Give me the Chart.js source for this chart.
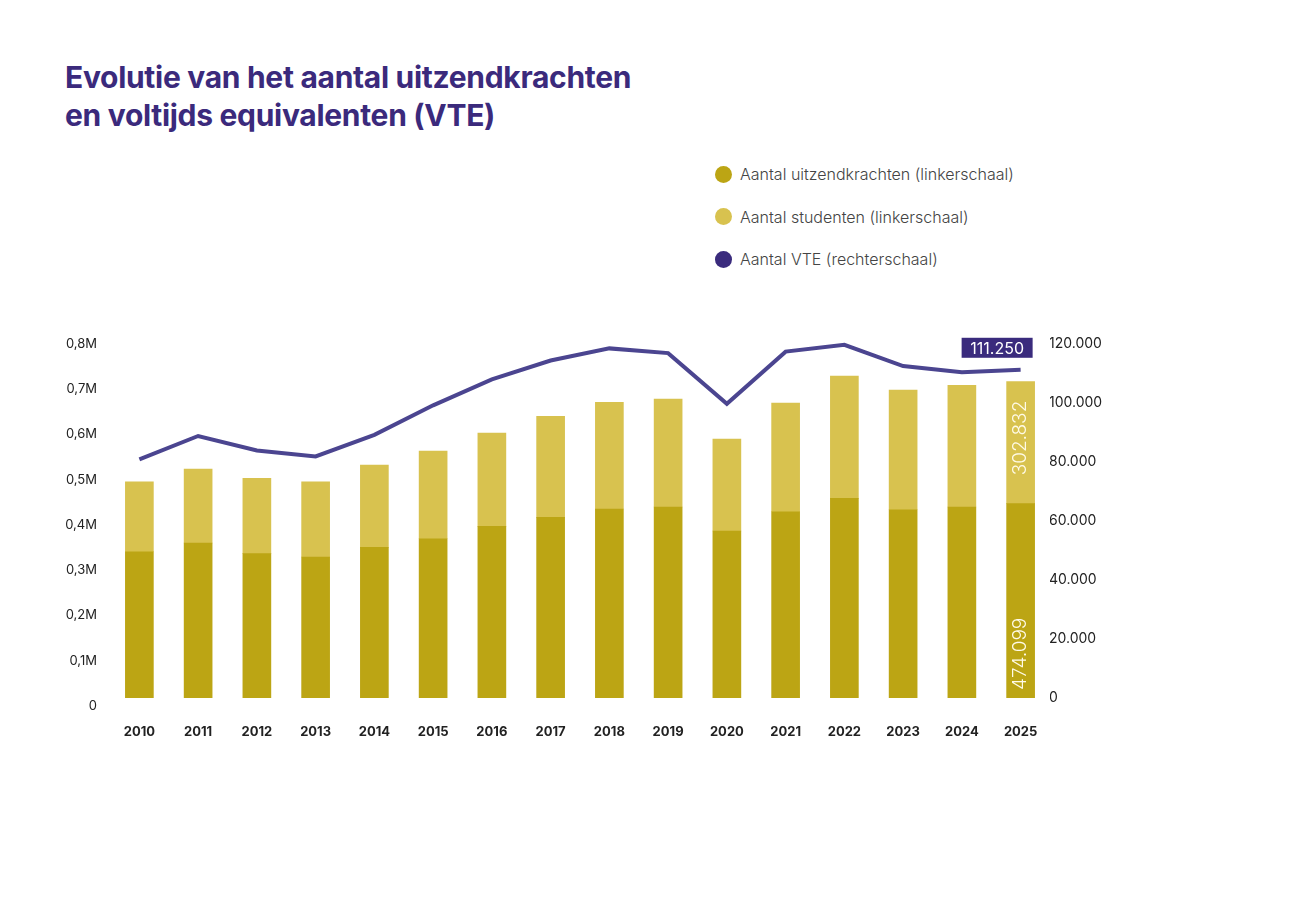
<!DOCTYPE html>
<html lang="nl">
<head>
<meta charset="utf-8">
<title>Evolutie van het aantal uitzendkrachten en VTE</title>
<script src="https://cdn.jsdelivr.net/npm/chart.js@4.4.1/dist/chart.umd.min.js"></script>
<style>
  body { margin: 0; background: #fff; width: 1300px; height: 909px; position: relative; overflow: hidden; font-family: Inter, sans-serif; }
  h1 { position: absolute; left: 65px; top: 58px; margin: 0; font: 700 30px/38px Inter, sans-serif; color: #3b2a7c; letter-spacing: -0.3px; }
  .legend { position: absolute; left: 715px; top: 153px; }
  .item { display: flex; align-items: center; height: 42.5px; font: 300 16px Inter, sans-serif; color: #444; }
  .dot { width: 17px; height: 17px; border-radius: 50%; margin-right: 8px; }
  #wrap { position: absolute; left: 0; top: 300px; width: 1300px; height: 460px; }
</style>
</head>
<body>
<h1>Evolutie van het aantal uitzendkrachten<br>en voltijds equivalenten (VTE)</h1>
<div class="legend">
  <div class="item"><span class="dot" style="background:#bca514"></span>Aantal uitzendkrachten (linkerschaal)</div>
  <div class="item"><span class="dot" style="background:#d8c24f"></span>Aantal studenten (linkerschaal)</div>
  <div class="item"><span class="dot" style="background:#3a2b7d"></span>Aantal VTE (rechterschaal)</div>
</div>
<div id="wrap"><canvas id="chart"></canvas></div>
<script>
// waarden
const years = ['2010', '2011', '2012', '2013', '2014', '2015', '2016', '2017',
               '2018', '2019', '2020', '2021', '2022', '2023', '2024', '2025'];
const uitzendkrachten = [323300, 342500, 318900, 311600, 333000, 352000, 379400, 399300,
                         417700, 422100, 369100, 411700, 441300, 416100, 422100, 429400];
const studenten = [154700, 163600, 166600, 166400, 181900, 193900, 206200, 223200,
                   235800, 238700, 203300, 240200, 270300, 264600, 268900, 269600];
const vte = [80900, 88800, 83900, 81900, 89200, 99200, 108000, 114400,
             118500, 116900, 99700, 117400, 119700, 112500, 110400, 111250];

const leftTickLabels = ['0', '0,1M', '0,2M', '0,3M', '0,4M', '0,5M', '0,6M', '0,7M', '0,8M'];
const rightTickValues = [0, 20000, 40000, 60000, 80000, 100000, 120000];
const rightTickLabels = ['0', '20.000', '40.000', '60.000', '80.000', '100.000', '120.000'];

// labels zoals ze bij 2025 in de grafiek staan
const label2025Uitzend = 474099;
const label2025Studenten = 302832;

const fmt = v => String(v).replace(/\B(?=(\d{3})+(?!\d))/g, '.');

const lastYearLabels = {
  id: 'lastYearLabels',
  afterDatasetsDraw(chart) {
    const ctx = chart.ctx;
    const last = years.length - 1;
    const dark = chart.getDatasetMeta(0).data[last];
    const light = chart.getDatasetMeta(1).data[last];
    const pt = chart.getDatasetMeta(2).data[last];

    ctx.save();
    ctx.font = '300 19px Inter, sans-serif';
    ctx.fillStyle = '#fffbe8';
    ctx.textBaseline = 'middle';

    ctx.save();
    ctx.translate(dark.x, dark.base - 8);
    ctx.rotate(-Math.PI / 2);
    ctx.textAlign = 'left';
    ctx.fillText(fmt(label2025Uitzend), 0, 0);
    ctx.restore();

    ctx.save();
    ctx.translate(light.x, light.y + 19);
    ctx.rotate(-Math.PI / 2);
    ctx.textAlign = 'right';
    ctx.fillText(fmt(label2025Studenten), 0, 0);
    ctx.restore();

    // waarde-label boven het laatste punt van de lijn
    const w = 71, h = 20;
    const right = pt.x + 12, bottom = pt.y - 12;
    ctx.fillStyle = '#3a2b7d';
    ctx.fillRect(right - w, bottom - h, w, h);
    ctx.font = '16px Inter, sans-serif';
    ctx.fillStyle = '#fff';
    ctx.textAlign = 'center';
    ctx.fillText(fmt(vte[last]), right - w / 2, bottom - h / 2 + 1);
    ctx.restore();
  }
};

Chart.defaults.font.family = 'Inter, sans-serif';
Chart.defaults.color = '#222';

new Chart(document.getElementById('chart'), {
  type: 'bar',
  data: {
    labels: years,
    datasets: [
      {
        label: 'Aantal uitzendkrachten (linkerschaal)',
        data: uitzendkrachten,
        backgroundColor: '#bca514',
        yAxisID: 'y',
        stack: 's',
        order: 1,
        barThickness: 28
      },
      {
        label: 'Aantal studenten (linkerschaal)',
        data: studenten,
        backgroundColor: '#d8c24f',
        yAxisID: 'y',
        stack: 's',
        order: 1,
        barThickness: 28
      },
      {
        type: 'line',
        label: 'Aantal VTE (rechterschaal)',
        data: vte,
        borderColor: '#4b4590',
        borderWidth: 4,
        pointRadius: 0,
        tension: 0,
        yAxisID: 'y2',
        order: 0
      }
    ]
  },
  options: {
    responsive: true,
    maintainAspectRatio: false,
    animation: false,
    layout: { padding: { top: 36, bottom: 20, left: 0, right: 0 } },
    plugins: {
      legend: { display: false },
      tooltip: { enabled: false }
    },
    scales: {
      x: {
        stacked: true,
        grid: { display: false, drawTicks: false },
        border: { display: false },
        ticks: { font: { size: 13, weight: 'bold' }, padding: 26, color: '#222' },
        afterFit(scale) { scale.height = 42; }
      },
      y: {
        stacked: true,
        position: 'left',
        min: 0,
        max: 800000,
        grid: { display: false, drawTicks: false },
        border: { display: false },
        ticks: {
          stepSize: 100000,
          padding: 13,
          labelOffset: 8,
          font: { size: 13 },
          callback: (v, i) => leftTickLabels[i]
        },
        afterFit(scale) { scale.width = 110; }
      },
      y2: {
        position: 'right',
        min: 0,
        max: 122700,
        grid: { display: false, drawTicks: false },
        border: { display: false },
        afterBuildTicks(scale) {
          scale.ticks = rightTickValues.map(v => ({ value: v }));
        },
        ticks: {
          padding: -1,
          autoSkip: false,
          font: { size: 14 },
          callback: (v, i) => rightTickLabels[i]
        },
        afterFit(scale) { scale.width = 250; }
      }
    }
  },
  plugins: [lastYearLabels]
});
</script>
</body>
</html>
